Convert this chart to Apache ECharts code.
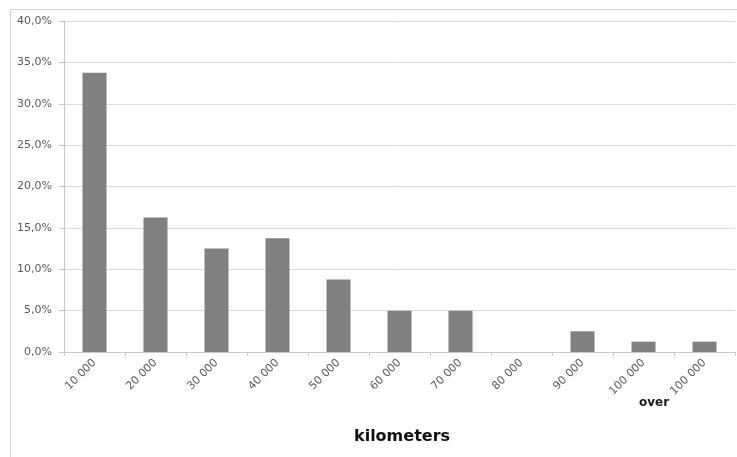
<!DOCTYPE html>
<html>
<head>
<meta charset="utf-8">
<script src="https://cdn.jsdelivr.net/npm/echarts@6/dist/echarts.min.js"></script>
<style>
  html, body { margin: 0; padding: 0; background: #ffffff; }
  #chart { width: 737px; height: 457px; }
</style>
</head>
<body>
<div id="chart"></div>
<script>
// Distance bands (km) and share of vehicles in each band (%)
const categories = ['10 000', '20 000', '30 000', '40 000', '50 000', '60 000',
                    '70 000', '80 000', '90 000', '100 000', '100 000'];
const shares = [33.75, 16.25, 12.5, 13.75, 8.75, 5.0, 5.0, 0, 2.5, 1.25, 1.25];
const yTicks = { min: 0, max: 40, interval: 5 };

const chart = echarts.init(document.getElementById('chart'), null, { renderer: 'canvas' });

const labelFont = 'DejaVu Sans';

chart.setOption({
  animation: false,
  backgroundColor: '#ffffff',
  grid: { left: 64, right: 2, top: 21, bottom: 105, containLabel: false },
  xAxis: {
    type: 'category',
    data: categories,
    axisLine: { show: true, lineStyle: { color: '#c8c8c8', width: 1 } },
    axisTick: { show: true, alignWithLabel: false, length: 4, lineStyle: { color: '#c8c8c8' } },
    axisLabel: {
      rotate: 45,
      margin: 9,
      interval: 0,
      fontFamily: labelFont,
      fontSize: 11,
      color: '#595959'
    },
    splitLine: { show: false }
  },
  yAxis: {
    type: 'value',
    min: yTicks.min,
    max: yTicks.max,
    interval: yTicks.interval,
    axisLine: { show: true, lineStyle: { color: '#c8c8c8', width: 1 } },
    axisTick: { show: true, length: 5, lineStyle: { color: '#c8c8c8' } },
    axisLabel: {
      margin: 12,
      fontFamily: labelFont,
      fontSize: 11,
      color: '#595959',
      formatter: v => v.toFixed(1).replace('.', ',') + '%'
    },
    splitLine: { show: true, lineStyle: { color: '#d9d9d9', width: 1 } }
  },
  series: [{
    type: 'bar',
    data: shares,
    barWidth: 24,
    itemStyle: { color: '#808080' }
  }],
  graphic: [
    {
      type: 'rect',
      silent: true,
      shape: { x: 10.5, y: 9.5, width: 800, height: 600 },
      style: { fill: 'none', stroke: '#d4d4d4', lineWidth: 1 },
      z: -1
    },
    {
      type: 'text',
      left: 639,
      top: 397,
      style: {
        text: 'over',
        font: 'bold 12px "DejaVu Sans"',
        fill: '#1a1a1a'
      }
    },
    {
      type: 'text',
      left: 354,
      top: 429,
      style: {
        text: 'kilometers',
        font: 'bold 16px "DejaVu Sans"',
        fill: '#111111'
      }
    }
  ]
});
</script>
</body>
</html>
